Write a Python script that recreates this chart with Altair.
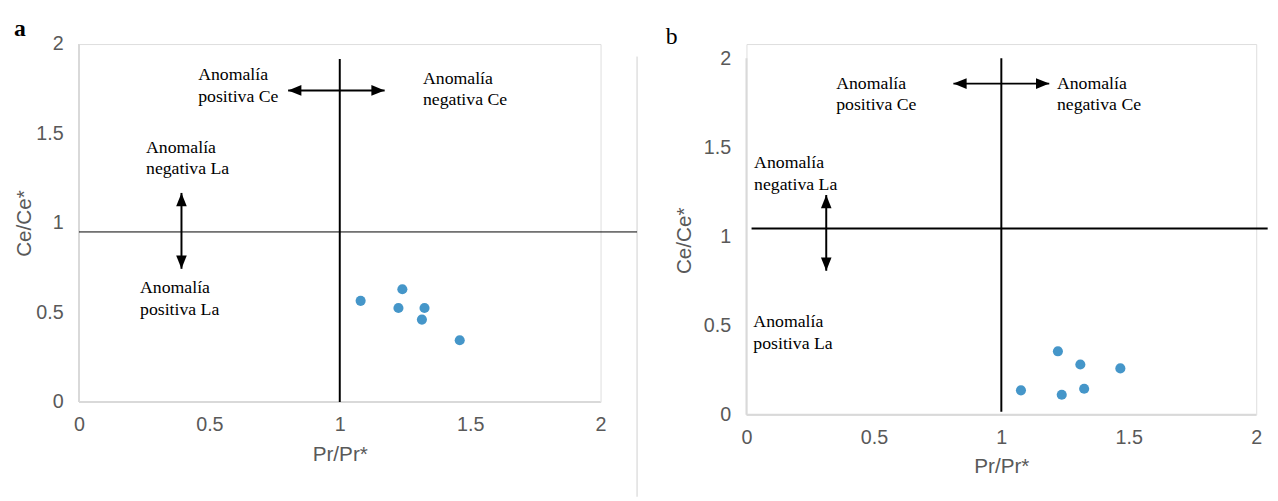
import altair as alt
import pandas as pd

# ---------------- data ----------------
a_pr = [1.08, 1.24, 1.225, 1.325, 1.315, 1.46]
a_ce = [0.565, 0.63, 0.525, 0.525, 0.46, 0.345]
b_pr = [1.077, 1.222, 1.31, 1.467, 1.237, 1.325]
b_ce = [0.137, 0.356, 0.282, 0.26, 0.112, 0.146]

tick_values = [0, 0.5, 1, 1.5, 2]

pr_ref = 1.0
a_ce_ref = 0.95
b_ce_ref = 1.045

ann_text = ["Anomalía\npositiva Ce", "Anomalía\nnegativa Ce",
            "Anomalía\nnegativa La", "Anomalía\npositiva La"]
a_ann_x = [0.457, 1.319, 0.257, 0.234]
a_ann_y = [1.824, 1.807, 1.421, 0.634]
b_ann_x = [0.352, 1.218, 0.030, 0.027]
b_ann_y = [1.858, 1.858, 1.410, 0.520]

# horizontal arrow: [x_left_tip, x_right_tip, y]; vertical arrow: [x, y_top_tip, y_bottom_tip]
a_harrow = [0.802, 1.172, 1.741]
a_varrow = [0.393, 1.168, 0.744]
b_harrow = [0.812, 1.188, 1.858]
b_varrow = [0.313, 1.233, 0.808]

SANS = "Liberation Sans"
SERIF = "Liberation Serif"
GREY = "#595959"
AXISLINE = "#d9d9d9"
DOT = "#4596C9"

HEAD_R = "M0,0L-2,-0.8L-2,0.8Z"
HEAD_L = "M0,0L2,-0.8L2,0.8Z"
HEAD_U = "M0,0L-0.8,2L0.8,2Z"
HEAD_D = "M0,0L-0.8,-2L0.8,-2Z"


def panel(letter, pr, ce, ce_ref, hline_x, vline_y, ann_x, ann_y, harrow, varrow,
          ytop, w, h, sep_x, title_dx, title_dy, ytitle_y, ytitle_pad, hline_w, bold):
    xs = alt.Scale(domain=[0, 2], nice=False, zero=False)
    ys = alt.Scale(domain=[0, ytop], nice=False, zero=False)
    xax = alt.Axis(values=tick_values, format="~g", title="Pr/Pr*", grid=False,
                   domain=False, ticks=False, labelFlush=False, labelOverlap=False,
                   labelFont=SANS, labelFontSize=20, labelColor=GREY, labelPadding=13,
                   titleFont=SANS, titleFontSize=21, titleFontWeight="normal",
                   titleColor=GREY, titlePadding=9)
    yargs = dict(values=tick_values, format="~g", title="Ce/Ce*", grid=False,
                 domain=False, ticks=False, labelFlush=False, labelOverlap=False,
                 labelFont=SANS, labelFontSize=20, labelColor=GREY, labelPadding=16,
                 titleFont=SANS, titleFontSize=21, titleFontWeight="normal",
                 titleColor=GREY, titlePadding=ytitle_pad)
    if ytitle_y is not None:
        yargs["titleY"] = ytitle_y
    yax = alt.Axis(**yargs)

    pts = pd.DataFrame({"pr": pr, "ce": ce})
    base_pts = alt.Chart(pts).mark_circle(size=105, color=DOT, opacity=1).encode(
        x=alt.X("pr:Q", scale=xs, axis=xax),
        y=alt.Y("ce:Q", scale=ys, axis=yax),
    )

    # axis lines (light grey)
    axl = pd.DataFrame({"x": [0, 0], "x2": [2, 0], "y": [0, 0], "y2": [0, 2]})
    axis_lines = alt.Chart(axl).mark_rule(color=AXISLINE, strokeWidth=2).encode(
        x=alt.X("x:Q", scale=xs), x2="x2:Q", y=alt.Y("y:Q", scale=ys), y2="y2:Q")

    layers = [axis_lines]

    if sep_x is not None:
        sep = pd.DataFrame({"x": [sep_x], "y": [-0.53], "y2": [1.93]})
        layers.append(alt.Chart(sep).mark_rule(color="#d0d0d0", strokeWidth=1).encode(
            x=alt.X("x:Q", scale=xs), y=alt.Y("y:Q", scale=ys), y2="y2:Q"))

    hl = pd.DataFrame({"x": [hline_x[0]], "x2": [hline_x[1]], "y": [ce_ref]})
    layers.append(alt.Chart(hl).mark_rule(color="black", strokeWidth=hline_w).encode(
        x=alt.X("x:Q", scale=xs), x2="x2:Q", y=alt.Y("y:Q", scale=ys)))

    vl = pd.DataFrame({"x": [pr_ref], "y": [vline_y[0]], "y2": [vline_y[1]]})
    layers.append(alt.Chart(vl).mark_rule(color="black", strokeWidth=2).encode(
        x=alt.X("x:Q", scale=xs), y=alt.Y("y:Q", scale=ys), y2="y2:Q"))

    # arrows
    ha = pd.DataFrame({"x": [harrow[0]], "x2": [harrow[1]], "y": [harrow[2]]})
    layers.append(alt.Chart(ha).mark_rule(color="black", strokeWidth=2).encode(
        x=alt.X("x:Q", scale=xs), x2="x2:Q", y=alt.Y("y:Q", scale=ys)))
    va = pd.DataFrame({"x": [varrow[0]], "y": [varrow[1]], "y2": [varrow[2]]})
    layers.append(alt.Chart(va).mark_rule(color="black", strokeWidth=2).encode(
        x=alt.X("x:Q", scale=xs), y=alt.Y("y:Q", scale=ys), y2="y2:Q"))

    heads = [
        (HEAD_L, harrow[0], harrow[2]),
        (HEAD_R, harrow[1], harrow[2]),
        (HEAD_U, varrow[0], varrow[1]),
        (HEAD_D, varrow[0], varrow[2]),
    ]
    for shp, hx, hy in heads:
        hd = pd.DataFrame({"x": [hx], "y": [hy]})
        layers.append(alt.Chart(hd).mark_point(shape=shp, size=180, filled=True,
                                               color="black", opacity=1).encode(
            x=alt.X("x:Q", scale=xs), y=alt.Y("y:Q", scale=ys)))

    txt = pd.DataFrame({"x": ann_x, "y": ann_y, "t": ann_text})
    layers.append(alt.Chart(txt).mark_text(font=SERIF, fontSize=18, lineHeight=22,
                                           align="left", baseline="middle",
                                           lineBreak="\n", color="black").encode(
        x=alt.X("x:Q", scale=xs), y=alt.Y("y:Q", scale=ys), text="t:N"))

    layers.append(base_pts)

    return alt.layer(*layers).properties(
        width=w, height=h,
        title=alt.TitleParams(letter, anchor="start", frame="bounds", font=SERIF,
                              fontSize=24, fontWeight="bold" if bold else "normal",
                              color="black", offset=-7, dy=title_dy, dx=title_dx),
    )


pa = panel("a", a_pr, a_ce, a_ce_ref, [0, 2.14], [0, 1.917], a_ann_x, a_ann_y,
           a_harrow, a_varrow, 2.0, 529, 363, 2.14, 0, 0, None, 1, 1, True)
pb = panel("b", b_pr, b_ce, b_ce_ref, [0.02, 2.045], [0.017, 2.0], b_ann_x, b_ann_y,
           b_harrow, b_varrow, 2.08, 517, 376, None, -8, -2, 199, 9, 2, False)

chart = alt.hconcat(pa, pb, spacing=26).configure_view(stroke=None).configure(
    background="white").properties(padding={"left": 5, "top": 5, "right": 0, "bottom": 5})

chart.save("out.html", embed_options={"renderer": "svg", "actions": False})
